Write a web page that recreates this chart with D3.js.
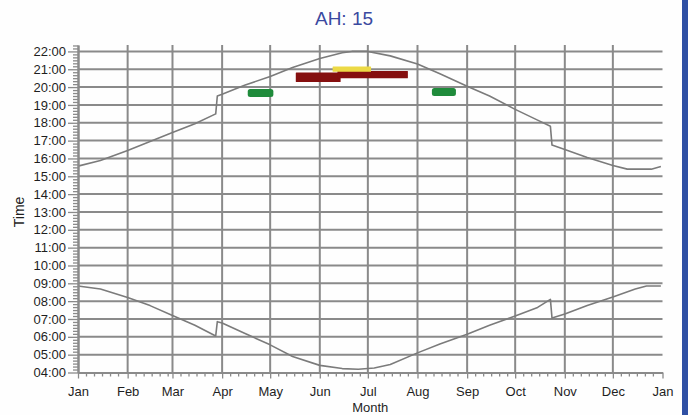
<!DOCTYPE html>
<html>
<head>
<meta charset="utf-8">
<script src="https://cdn.jsdelivr.net/npm/d3@7"></script>
<style>
body { margin: 0; background: #fff; }
svg { display: block; font-family: Arial, "Liberation Sans", sans-serif; }
</style>
</head>
<body>
<svg></svg>
<script>
// chart data
const chartTitle = "AH: 15";
const monthLabels = ["Jan", "Feb", "Mar", "Apr", "May", "Jun", "Jul", "Aug", "Sep", "Oct", "Nov", "Dec", "Jan"];
const hourValues = [4, 5, 6, 7, 8, 9, 10, 11, 12, 13, 14, 15, 16, 17, 18, 19, 20, 21, 22];
const hourLabels = ["04:00", "05:00", "06:00", "07:00", "08:00", "09:00", "10:00", "11:00", "12:00", "13:00",
    "14:00", "15:00", "16:00", "17:00", "18:00", "19:00", "20:00", "21:00", "22:00"];

// upper curve (sunset)
const sunsetDates = ["2011-01-01", "2011-01-15", "2011-02-01", "2011-02-15", "2011-03-01", "2011-03-15",
    "2011-03-28", "2011-03-29", "2011-04-01", "2011-04-15", "2011-05-01", "2011-05-15", "2011-06-01",
    "2011-06-15", "2011-06-21", "2011-07-01", "2011-07-15", "2011-08-01", "2011-08-15", "2011-09-01",
    "2011-09-15", "2011-10-01", "2011-10-15", "2011-10-23", "2011-10-24", "2011-11-01", "2011-11-15",
    "2011-12-01", "2011-12-10", "2011-12-25", "2011-12-31"];
const sunsetHours = [15.57, 15.88, 16.45, 16.95, 17.45, 17.95,
    18.5, 19.5, 19.6, 20.1, 20.6, 21.1, 21.6,
    21.93, 22.0, 22.0, 21.75, 21.3, 20.75, 20.05,
    19.5, 18.75, 18.15, 17.8, 16.75, 16.5, 16.05,
    15.6, 15.4, 15.4, 15.55];

// lower curve (sunrise)
const sunriseDates = ["2011-01-01", "2011-01-15", "2011-02-01", "2011-02-15", "2011-03-01", "2011-03-15",
    "2011-03-28", "2011-03-29", "2011-04-01", "2011-04-15", "2011-05-01", "2011-05-15", "2011-06-01",
    "2011-06-15", "2011-06-25", "2011-07-05", "2011-07-15", "2011-08-01", "2011-08-15", "2011-09-01",
    "2011-09-15", "2011-10-01", "2011-10-15", "2011-10-23", "2011-10-24", "2011-11-01", "2011-11-15",
    "2011-12-01", "2011-12-15", "2011-12-22", "2011-12-31"];
const sunriseHours = [8.85, 8.68, 8.2, 7.75, 7.2, 6.65,
    6.05, 6.85, 6.78, 6.2, 5.55, 4.9, 4.4,
    4.22, 4.18, 4.25, 4.45, 5.1, 5.6, 6.15,
    6.65, 7.17, 7.65, 8.1, 7.05, 7.28, 7.75,
    8.23, 8.68, 8.85, 8.85];

// event bars
const barStart = ["2011-04-17", "2011-05-17", "2011-06-12", "2011-06-09", "2011-08-10"];
const barEnd   = ["2011-05-03", "2011-06-14", "2011-07-26", "2011-07-03", "2011-08-25"];
const barLow   = [19.45, 20.28, 20.5, 20.86, 19.5];
const barHigh  = [19.9, 20.82, 20.9, 21.15, 19.95];
const barKind  = ["green", "red", "red", "yellow", "green"];

const parseDate = d3.timeParse("%Y-%m-%d");

const svgWidth = 688;
const svgHeight = 415;
const svg = d3.select("svg")
    .attr("width", svgWidth)
    .attr("height", svgHeight);

const margin = {top: 45, right: 25.5, bottom: 42.5, left: 78};
const width = svgWidth - margin.left - margin.right;
const height = svgHeight - margin.top - margin.bottom;

svg.append("rect")
    .attr("width", svgWidth)
    .attr("height", svgHeight)
    .attr("fill", "#fefefe");

// blue strip on the right edge
svg.append("rect")
    .attr("x", 682)
    .attr("width", svgWidth - 682)
    .attr("height", svgHeight)
    .attr("fill", "#2f50a4");

const g = svg.append("g")
    .attr("transform", "translate(" + margin.left + "," + margin.top + ")");

const yearStart = parseDate("2011-01-01");
const yearEnd = parseDate("2012-01-01");

const x = d3.scaleTime()
    .domain([yearStart, yearEnd])
    .range([0, width]);

const y = d3.scaleLinear()
    .domain([4, 22.36])
    .range([height, 0]);

const z = d3.scaleOrdinal()
    .domain(["green", "red", "yellow"])
    .range(["#1f8b3b", "#850f0f", "#ecd945"]);

const months = d3.timeMonth.range(yearStart, d3.timeDay.offset(yearEnd, 1));

const gridColor = "#8a8a8a";

// grid
g.append("g")
    .selectAll("line")
    .data(hourValues.slice(1))
    .enter().append("line")
    .attr("x1", 0)
    .attr("x2", width)
    .attr("y1", d => y(d))
    .attr("y2", d => y(d))
    .attr("stroke", gridColor)
    .attr("stroke-width", 2);

g.append("g")
    .selectAll("line")
    .data(months.slice(1, 12))
    .enter().append("line")
    .attr("x1", d => x(d))
    .attr("x2", d => x(d))
    .attr("y1", 0)
    .attr("y2", height)
    .attr("stroke", gridColor)
    .attr("stroke-width", 2);

// curves
const line = d3.line()
    .x(d => x(d.date))
    .y(d => y(d.hour));

const sunset = sunsetDates.map((d, i) => ({date: parseDate(d), hour: sunsetHours[i]}));
const sunrise = sunriseDates.map((d, i) => ({date: parseDate(d), hour: sunriseHours[i]}));

[sunset, sunrise].forEach(series => {
    g.append("path")
        .datum(series)
        .attr("fill", "none")
        .attr("stroke", "#7b7b7b")
        .attr("stroke-width", 1.6)
        .attr("stroke-linejoin", "round")
        .attr("d", line);
});

// bars
const bars = barStart.map((d, i) => ({
    start: parseDate(d), end: parseDate(barEnd[i]),
    low: barLow[i], high: barHigh[i], kind: barKind[i]
}));

g.append("g")
    .selectAll("rect")
    .data(bars)
    .enter().append("rect")
    .attr("x", d => x(d.start))
    .attr("y", d => y(d.high))
    .attr("width", d => x(d.end) - x(d.start))
    .attr("height", d => y(d.low) - y(d.high))
    .attr("rx", d => d.kind === "green" ? 2.5 : 0.5)
    .attr("fill", d => z(d.kind));

// y axis, minor ticks every 10 minutes
const minorHours = d3.range(4, 22.34, 1 / 6).filter(h => Math.abs(h - Math.round(h)) > 0.01);

const yMinor = g.append("g")
    .call(d3.axisLeft(y).tickValues(minorHours).tickSize(5).tickSizeOuter(0).tickFormat(""));

const yAxis = g.append("g")
    .call(d3.axisLeft(y)
        .tickValues(hourValues)
        .tickSize(10)
        .tickSizeOuter(0)
        .tickPadding(2)
        .tickFormat((d, i) => hourLabels[i]));

// x axis, minor ticks on days 6, 11, 16, 21, 26
const minorDays = d3.timeDay.range(yearStart, yearEnd)
    .filter(d => [6, 11, 16, 21, 26].includes(d.getDate()));

const xMinor = g.append("g")
    .attr("transform", "translate(0," + height + ")")
    .call(d3.axisBottom(x).tickValues(minorDays).tickSize(4).tickSizeOuter(0).tickFormat(""));

const xAxis = g.append("g")
    .attr("transform", "translate(0," + height + ")")
    .call(d3.axisBottom(x)
        .tickValues(months)
        .tickSize(6)
        .tickSizeOuter(0)
        .tickPadding(8)
        .tickFormat((d, i) => monthLabels[i]));

[yMinor, yAxis, xMinor, xAxis].forEach(a => {
    a.selectAll("path.domain").attr("stroke", gridColor).attr("stroke-width", 2);
    a.selectAll(".tick line").attr("stroke", gridColor).attr("stroke-width", 1.3);
    a.selectAll("text")
        .attr("font-family", "Arial, 'Liberation Sans', sans-serif")
        .attr("font-size", 13)
        .attr("fill", "#1e1e1e");
});

// labels
svg.append("text")
    .attr("x", svgWidth / 2)
    .attr("y", 25)
    .attr("text-anchor", "middle")
    .attr("font-size", 19)
    .attr("fill", "#3a49a0")
    .text(chartTitle);

svg.append("text")
    .attr("x", margin.left + width / 2)
    .attr("y", 412)
    .attr("text-anchor", "middle")
    .attr("font-size", 13)
    .attr("fill", "#1e1e1e")
    .text("Month");

svg.append("text")
    .attr("transform", "translate(24," + (margin.top + y(13)) + ") rotate(-90)")
    .attr("text-anchor", "middle")
    .attr("font-size", 14)
    .attr("fill", "#1e1e1e")
    .text("Time");
</script>
</body>
</html>
